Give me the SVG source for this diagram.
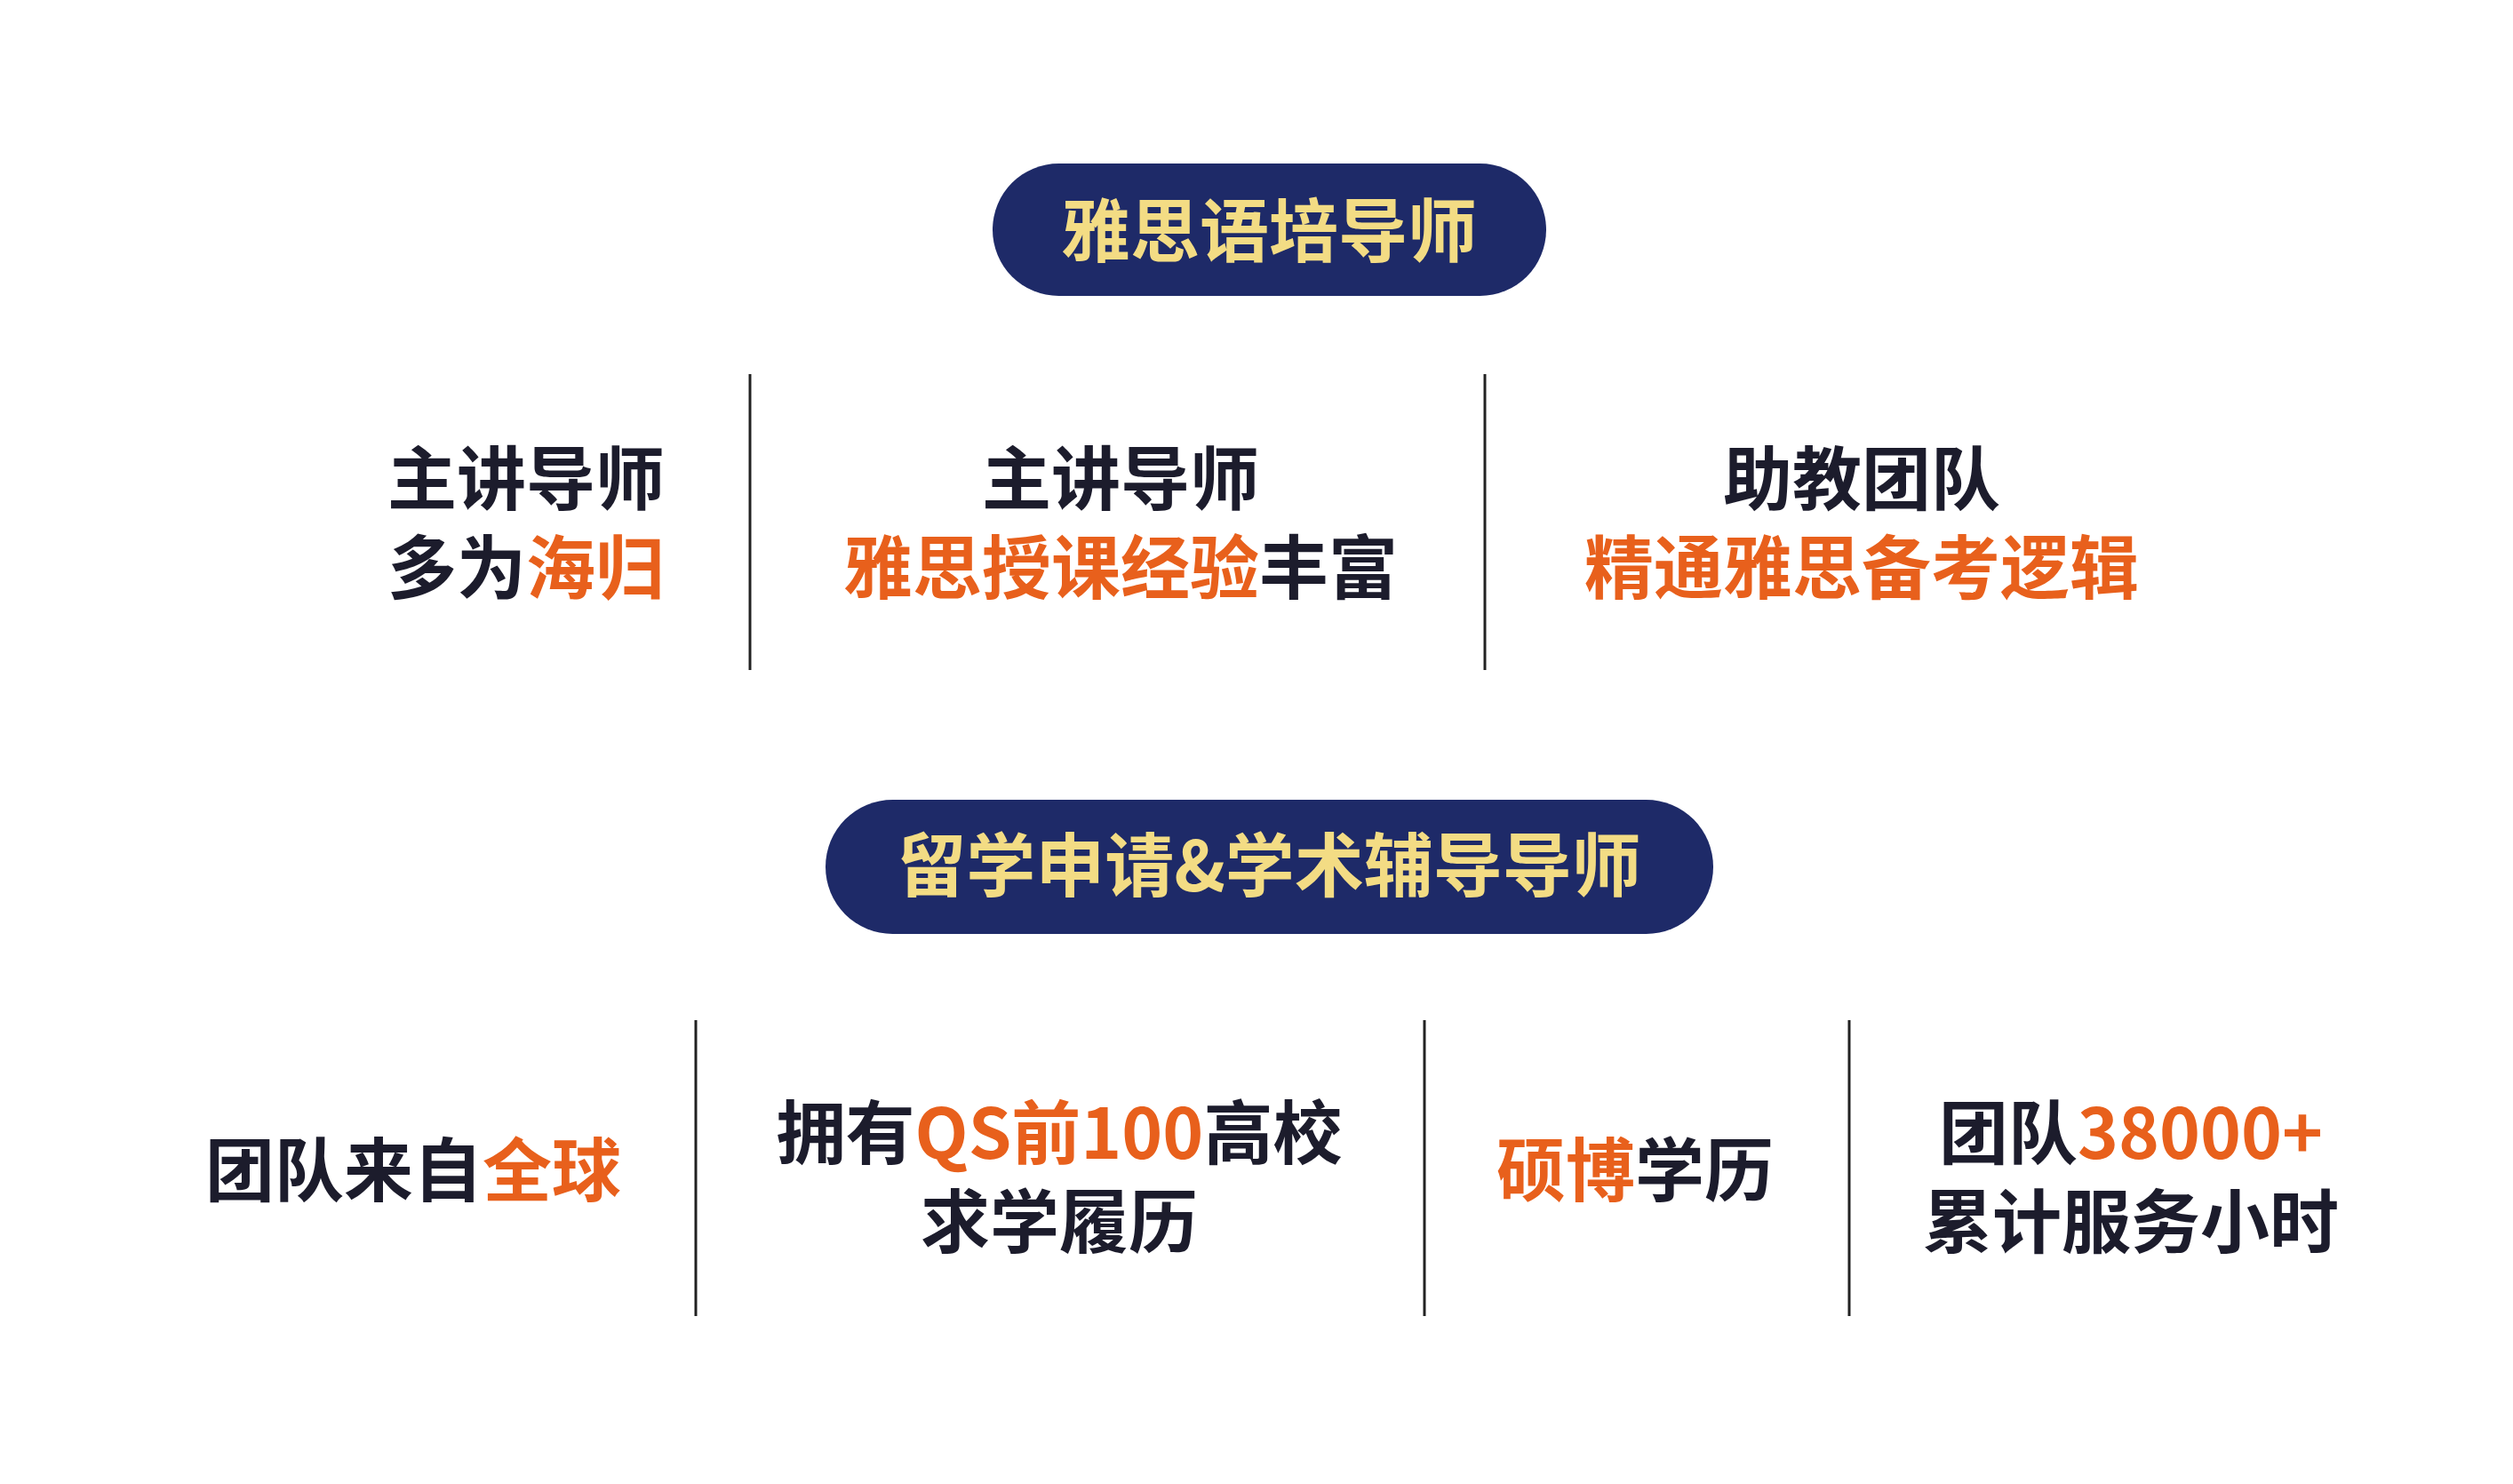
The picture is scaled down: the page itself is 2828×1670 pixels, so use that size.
<svg xmlns="http://www.w3.org/2000/svg" width="2828" height="1670" viewBox="0 0 2828 1670">
<style>
text{font-family:"Noto Sans CJK SC","Noto Sans",sans-serif;font-weight:700;font-size:78px;text-anchor:middle;dominant-baseline:central;fill:#1c1c2c}
.o{fill:#e8601c}
.h{fill:#f3dc84}
.pill{fill:#1e2a68}
.d{stroke:#222;stroke-width:3}
</style>
<rect width="2828" height="1670" fill="#fff"/>
<g id="header1"><rect class="pill" x="1117" y="184" width="623" height="149" rx="74.5"/><text class="h" x="1428" y="255">雅思语培导师</text></g>
<g id="header2"><rect class="pill" x="929" y="900" width="999" height="151" rx="75.5"/><text class="h" x="1428" y="969">留学申请&amp;学术辅导导师</text></g>
<g id="connectors">
<line class="d" x1="844" y1="421" x2="844" y2="754"/>
<line class="d" x1="1671" y1="421" x2="1671" y2="754"/>
<line class="d" x1="783" y1="1148" x2="783" y2="1481"/>
<line class="d" x1="1603" y1="1148" x2="1603" y2="1481"/>
<line class="d" x1="2081" y1="1148" x2="2081" y2="1481"/>
</g>
<g id="r1c1"><text x="592" y="534">主讲导师</text><text x="592" y="634">多为<tspan class="o">海归</tspan></text></g>
<g id="r1c2"><text x="1261" y="534">主讲导师</text><text x="1261" y="634"><tspan class="o">雅思授课经验</tspan>丰富</text></g>
<g id="r1c3"><text x="2095" y="534">助教团队</text><text class="o" x="2095" y="634">精通雅思备考逻辑</text></g>
<g id="r2c1"><text x="465" y="1312">团队来自<tspan class="o">全球</tspan></text></g>
<g id="r2c2"><text x="1192" y="1270">拥有<tspan class="o">QS前100</tspan>高校</text><text x="1192" y="1370">求学履历</text></g>
<g id="r2c3"><text x="1840" y="1312"><tspan class="o">硕博</tspan>学历</text></g>
<g id="r2c4"><text x="2398" y="1270">团队<tspan class="o">38000+</tspan></text><text x="2398" y="1370">累计服务小时</text></g>
</svg>
